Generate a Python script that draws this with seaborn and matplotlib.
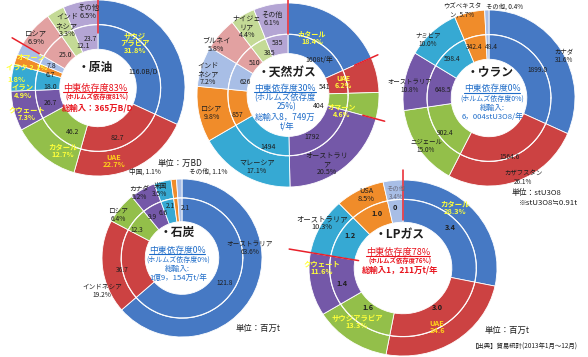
import numpy as np
import matplotlib
matplotlib.use("Agg")
import matplotlib.pyplot as plt
import seaborn as sns

sns.set_theme(style="white")
plt.rcParams['font.family'] = ['Noto Sans CJK JP', 'DejaVu Sans']

# ---------------- data ----------------
oil_names = ["サウジ\nアラビア", "UAE", "カタール", "クウェート", "イラン", "オマーン", "イラク", "ロシア", "インド\nネシア", "その他"]
oil_share = [31.8, 22.7, 12.7, 7.3, 4.9, 1.8, 2.1, 6.9, 3.3, 6.5]
oil_values = [116.0, 82.7, 46.2, 26.7, 18.0, 6.7, 7.8, 25.0, 12.1, 23.7]

gas_names = ["カタール", "UAE", "オマーン", "オーストラリ\nア", "マレーシア", "ロシア", "インド\nネシア", "ブルネイ", "ナイジェ\nリア", "その他"]
gas_share = [18.4, 6.2, 4.6, 20.5, 17.1, 9.8, 7.2, 5.8, 4.4, 6.1]
gas_values = [1608, 541, 404, 1792, 1494, 857, 626, 510, 385, 535]

ura_names = ["カナダ", "カザフスタン", "ニジェール", "オーストラリア", "ナミビア", "ウズベキスタ\nン,", "その他,"]
ura_share = [31.6, 26.1, 15.0, 10.8, 10.0, 5.7, 0.4]
ura_values = [1899.0, 1564.6, 902.4, 648.5, 598.4, 342.4, 48.4]

coal_names = ["オーストラリア", "インドネシア", "ロシア", "カナダ", "米国", "中国,", "その他,"]
coal_share = [63.6, 19.2, 6.4, 5.2, 3.5, 1.1, 1.1]
coal_values = [121.8, 36.7, 12.3, 9.9, 6.6, 2.1, 2.1]

lpg_names = ["カタール", "UAE", "サウジアラビア", "クウェート", "オーストラリア", "USA", "その他"]
lpg_share = [28.3, 24.6, 13.3, 11.6, 10.3, 8.5, 3.4]
lpg_values = [3.4, 3.0, 1.6, 1.4, 1.2, 1.0, 0]

# ---------------- style ----------------
BLUE, RED, GREEN, PURPLE, AQUA, ORANGE = "#4679C4", "#CC4242", "#93BF4A", "#7458A8", "#36A9D3", "#F08C2A"
LBLUE, PINK, LGREEN, LAV = "#A8BEE6", "#E2A1A1", "#C4DA96", "#B4A5D4"
YEL, GOLD, DARK, REDT, BLUET = "#FFFF3A", "#FFD21A", "#1E1E1E", "#E8141E", "#1E6CC8"

W, H = 588, 357
fig = plt.figure(figsize=(W / 100, H / 100), dpi=100)
fig.patch.set_facecolor("white")


def P(x, y):
    return x / W, 1 - y / H


def donut(cx, cy, rx, ry, sizes, colors, r_mid=0.72, r_in=0.46):
    ax = fig.add_axes([(cx - rx) / W, 1 - (cy + ry) / H, 2 * rx / W, 2 * ry / H])
    for rad, wid in ((1.0, 1.0 - r_mid), (r_mid, r_mid - r_in)):
        wedges, _ = ax.pie(sizes, colors=colors, radius=rad, startangle=90, counterclock=False,
                           wedgeprops=dict(width=wid, edgecolor="white", linewidth=0.6))
        for w in wedges:
            w.set_clip_on(False)
    t = np.linspace(0, 2 * np.pi, 300)
    ax.plot(r_mid * np.cos(t), r_mid * np.sin(t), color="white", alpha=0.75, lw=0.9, clip_on=False)
    ax.set_aspect("auto")
    ax.set_xlim(-1, 1)
    ax.set_ylim(-1, 1)
    ax.axis("off")
    return ax


def red_lines(ax, sizes, idx_list, r0, r1):
    cum = np.concatenate([[0], np.cumsum(sizes)]) / np.sum(sizes)
    for i, (a, b) in zip(idx_list, zip(r0, r1)):
        th = np.pi / 2 - 2 * np.pi * cum[i]
        ax.plot([a * np.cos(th), b * np.cos(th)], [a * np.sin(th), b * np.sin(th)],
                color="#E8202A", lw=1.1, clip_on=False, zorder=5)


def txt(s, x, y, color=DARK, size=5.3, weight="normal", **kw):
    return fig.text(*P(x, y), s, color=color, fontsize=size, fontweight=weight,
                    ha="center", va="center", linespacing=1.05, **kw)


underlined = []


def center_block(lines):
    for s, x, y, c, sz, wt, ul in lines:
        t = txt(s, x, y, c, sz, wt)
        if ul:
            underlined.append((t, c))


# ---------------- 原油 ----------------
oil_cols = [BLUE, RED, GREEN, PURPLE, AQUA, ORANGE, LBLUE, PINK, LGREEN, LAV]
ax = donut(98, 88, 87, 88, oil_values, oil_cols, r_mid=0.72, r_in=0.44)
red_lines(ax, oil_values, [0, 7], [0.62, 0.78], [1.05, 1.14])
oil_pos = [(135, 43), (114, 161), (63, 151), (27, 114), (23, 92), (31, 57), (27, 68), (36, 38), (67, 26), (88, 12)]
oil_lc = [YEL, GOLD, YEL, YEL, YEL, YEL, YEL, DARK, DARK, DARK]
for i, (n, s, (x, y), c) in enumerate(zip(oil_names, oil_share, oil_pos, oil_lc)):
    if n == "オマーン":
        txt(n, x, y, c, 5.2, "bold")
        txt(f"{s}%", 16, 79, c, 5.2, "bold")
    elif n == "イラク":
        txt(f"{n} {s}%", x, y, c, 5.2, "bold")
    else:
        txt(f"{n}\n{s}%", x, y, c, 5.3, "bold" if c != DARK else "normal")
oil_in = [(143, 72), (117, 138), (73, 132), (50, 103), (50, 87), (50, 75), (52, 66), (65, 55), (83, 46), (90, 39)]
for i, (v, (x, y)) in enumerate(zip(oil_values, oil_in)):
    txt(f"{v:.1f}" + ("B/D" if i == 0 else ""), x, y, DARK, 5.0)
center_block([
    ("・原油", 95, 68, DARK, 8.5, "bold", False),
    ("中東依存度83%", 95, 88, REDT, 6.6, "normal", True),
    ("(ホルムズ依存度81%)", 97, 97, REDT, 4.6, "bold", False),
    ("総輸入：365万B/D", 98, 108, REDT, 6.0, "bold", False),
])
txt("単位：万BD", 180, 163, DARK, 6.0)

# ---------------- 天然ガス ----------------
gas_cols = [BLUE, RED, GREEN, PURPLE, AQUA, ORANGE, LBLUE, PINK, LGREEN, LAV]
ax = donut(288, 95, 91, 92, gas_values, gas_cols, r_mid=0.66, r_in=0.45)
red_lines(ax, gas_values, [0, 1, 3], [0.66, 0.8, 0.85], [1.06, 1.08, 1.1])
gas_pos = [(312, 38), (343, 82), (342, 111), (327, 164), (257, 167), (212, 113), (208, 74), (216, 45), (247, 27), (272, 19)]
gas_lc = [YEL, YEL, YEL, DARK, DARK, DARK, DARK, DARK, DARK, DARK]
for n, s, (x, y), c in zip(gas_names, gas_share, gas_pos, gas_lc):
    txt(f"{n}\n{s}%", x, y, c, 5.1, "bold" if c != DARK else "normal")
gas_in = [(319, 60), (325, 87), (319, 106), (312, 137), (268, 147), (238, 115), (245, 82), (255, 63), (270, 53), (278, 43)]
for i, (v, (x, y)) in enumerate(zip(gas_values, gas_in)):
    txt(f"{v}" + ("t/年" if i == 0 else ""), x, y, DARK, 5.0)
center_block([
    ("・天然ガス", 287, 72, DARK, 8.5, "bold", False),
    ("中東依存度30%", 285, 88, BLUET, 6.3, "normal", True),
    ("(ホルムズ依存度", 285, 98, BLUET, 6.0, "normal", False),
    ("25%)", 287, 107, BLUET, 6.0, "normal", False),
    ("総輸入8，749万", 285, 117, BLUET, 6.0, "normal", False),
    ("t/年", 287, 126, BLUET, 6.0, "normal", False),
])

# ---------------- ウラン ----------------
ura_cols = [BLUE, RED, GREEN, PURPLE, AQUA, ORANGE, LBLUE]
ax = donut(489, 98, 86, 88, ura_values, ura_cols, r_mid=0.72, r_in=0.44)
ura_pos = [(564, 56), (523, 178), (426, 146), (410, 86), (428, 40), (462, 11), (505, 7)]
for n, s, (x, y) in zip(ura_names, ura_share, ura_pos):
    sep = "\n" if not n.endswith(",") else " "
    txt(f"{n}{sep}{s}%", x, y, DARK, 4.6)
ura_in = [(538, 70), (510, 157), (445, 133), (443, 90), (452, 59), (474, 47), (491, 47)]
for v, (x, y) in zip(ura_values, ura_in):
    txt(f"{v:.1f}", x, y, DARK, 4.8)
center_block([
    ("・ウラン", 490, 72, DARK, 8.5, "bold", False),
    ("中東依存度0%", 492, 89, BLUET, 6.3, "normal", True),
    ("(ホルムズ依存度0%)", 492, 99, BLUET, 5.0, "normal", False),
    ("総輸入:", 492, 108, BLUET, 5.5, "normal", False),
    ("6，004stU3O8/年", 492, 117, BLUET, 5.5, "normal", False),
])
txt("単位：stU3O8", 537, 193, DARK, 5.6)
txt("※stU3O8≒0.91t", 548, 203, DARK, 5.6)

# ---------------- 石炭 ----------------
coal_cols = [BLUE, RED, GREEN, PURPLE, AQUA, ORANGE, LBLUE]
ax = donut(182, 258, 80, 79, coal_values, coal_cols, r_mid=0.76, r_in=0.46)
coal_pos = [(250, 248), (102, 291), (118, 215), (139, 193), (160, 190), (145, 172), (208, 172)]
for n, s, (x, y) in zip(coal_names, coal_share, coal_pos):
    sep = "\n" if not n.endswith(",") else " "
    txt(f"{n}{sep}{s}%", x, y, DARK, 4.8)
coal_in = [(225, 283), (122, 270), (137, 230), (152, 217), (163, 213), (170, 206), (185, 208)]
for v, (x, y) in zip(coal_values, coal_in):
    txt(f"{v:.1f}", x, y, DARK, 4.8)
center_block([
    ("・石炭", 177, 232, DARK, 8.5, "bold", False),
    ("中東依存度0%", 177, 250, BLUET, 6.3, "normal", True),
    ("(ホルムズ依存度0%)", 178, 260, BLUET, 5.0, "normal", False),
    ("総輸入:", 177, 269, BLUET, 5.5, "normal", False),
    ("1億9，154万t/年", 178, 278, BLUET, 5.5, "normal", False),
])
txt("単位：百万t", 258, 328, DARK, 6.0)

# ---------------- LPガス ----------------
lpg_cols = [BLUE, RED, GREEN, PURPLE, AQUA, ORANGE, LBLUE]
ax = donut(403, 268, 94, 88, lpg_share, lpg_cols, r_mid=0.78, r_in=0.52)
red_lines(ax, lpg_share, [0, 4], [0.55, 0.48], [1.11, 1.23])
lpg_pos = [(455, 208), (437, 327), (357, 322), (322, 268), (322, 223), (366, 195), (396, 193)]
lpg_lc = [YEL, GOLD, YEL, YEL, DARK, DARK, "#6A6A7A"]
for n, s, (x, y), c in zip(lpg_names, lpg_share, lpg_pos, lpg_lc):
    lab = f"{n}\n{s}" if n == "UAE" else f"{n}\n{s}%"
    txt(lab, x, y, c, 5.3 if n != "その他" else 4.6, "bold" if c in (YEL, GOLD) else "normal")
lpg_in = [(450, 228), (437, 307), (368, 307), (342, 283), (350, 235), (377, 213), (395, 208)]
for v, (x, y) in zip(lpg_values, lpg_in):
    txt(f"{v:.1f}" if v else "0", x, y, DARK, 5.3, "bold")
center_block([
    ("・LPガス", 400, 235, DARK, 8.5, "bold", False),
    ("中東依存度78%", 398, 252, REDT, 6.6, "normal", True),
    ("(ホルムズ依存度76%)", 400, 261, REDT, 4.6, "bold", False),
    ("総輸入1，211万t/年", 400, 270, REDT, 6.0, "bold", False),
])
txt("単位：百万t", 507, 330, DARK, 6.0)
txt("【出典】貿易統計(2013年1月～12月)", 525, 347, DARK, 4.6)

# underline helper
fig.canvas.draw()
r = fig.canvas.get_renderer()
for t, c in underlined:
    bb = t.get_window_extent(r).transformed(fig.transFigure.inverted())
    fig.add_artist(plt.Line2D([bb.x0, bb.x1], [bb.y0 + 0.002, bb.y0 + 0.002],
                              transform=fig.transFigure, color=c, lw=0.8))

fig.savefig("out.png", dpi=100, facecolor="white")
